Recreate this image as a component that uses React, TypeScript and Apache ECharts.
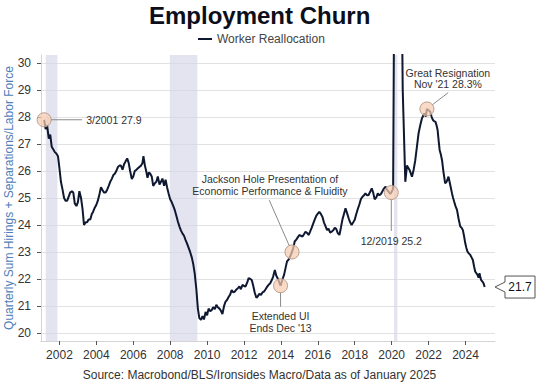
import React, { useEffect, useRef } from "react";
import * as echarts from "echarts";

// [decimal year, quarterly sum of hirings + separations / labor force]
const workerReallocation: [number, number][] = [
  [2001.17, 27.9], [2001.25, 27.55], [2001.33, 27.7], [2001.42, 27.2], [2001.5, 27.35], [2001.58, 26.9],
  [2001.67, 26.8], [2001.75, 26.7], [2001.83, 26.65], [2001.92, 26.55], [2002.0, 26.1], [2002.08, 25.6],
  [2002.17, 25.3], [2002.25, 25.0], [2002.33, 24.9], [2002.42, 24.9], [2002.5, 25.05], [2002.58, 25.2],
  [2002.67, 25.25], [2002.75, 25.2], [2002.83, 24.8], [2002.92, 24.7], [2003.0, 24.85], [2003.08, 25.25],
  [2003.17, 25.0], [2003.25, 24.6], [2003.33, 24.0], [2003.42, 24.1], [2003.5, 24.1], [2003.58, 24.2],
  [2003.67, 24.2], [2003.75, 24.4], [2003.83, 24.5], [2003.92, 24.65], [2004.0, 24.75], [2004.08, 24.9],
  [2004.17, 25.15], [2004.25, 25.4], [2004.33, 25.3], [2004.42, 25.2], [2004.5, 25.2], [2004.58, 25.3],
  [2004.67, 25.45], [2004.75, 25.6], [2004.83, 25.7], [2004.92, 25.85], [2005.0, 25.9], [2005.08, 26.0],
  [2005.17, 26.15], [2005.25, 26.2], [2005.33, 26.2], [2005.42, 26.05], [2005.5, 26.25], [2005.58, 26.35],
  [2005.67, 26.47], [2005.75, 26.3], [2005.83, 26.0], [2005.92, 25.7], [2006.0, 25.8], [2006.08, 26.0],
  [2006.17, 26.05], [2006.25, 26.1], [2006.33, 26.15], [2006.42, 26.2], [2006.5, 26.3], [2006.55, 26.55],
  [2006.63, 26.2], [2006.7, 26.0], [2006.77, 25.75], [2006.85, 25.95], [2006.92, 25.9], [2007.0, 25.8],
  [2007.08, 25.45], [2007.17, 25.55], [2007.25, 25.6], [2007.33, 25.8], [2007.42, 25.5], [2007.5, 25.6],
  [2007.58, 25.72], [2007.67, 25.45], [2007.75, 25.68], [2007.83, 25.4], [2007.92, 25.15], [2008.0, 24.95],
  [2008.08, 24.85], [2008.17, 24.7], [2008.25, 24.55], [2008.33, 24.35], [2008.42, 24.12], [2008.5, 23.95],
  [2008.58, 23.8], [2008.67, 23.68], [2008.75, 23.6], [2008.83, 23.45], [2008.92, 23.3], [2009.0, 23.15],
  [2009.08, 23.0], [2009.17, 22.8], [2009.25, 22.55], [2009.33, 22.2], [2009.42, 21.6], [2009.5, 20.9],
  [2009.58, 20.55], [2009.67, 20.48], [2009.75, 20.62], [2009.83, 20.5], [2009.92, 20.78], [2010.0, 20.65],
  [2010.08, 20.9], [2010.17, 20.8], [2010.25, 20.85], [2010.33, 20.95], [2010.42, 20.88], [2010.5, 21.04],
  [2010.58, 20.95], [2010.67, 20.9], [2010.75, 20.82], [2010.83, 20.7], [2010.92, 21.0], [2011.0, 21.16],
  [2011.08, 21.22], [2011.17, 21.34], [2011.25, 21.42], [2011.33, 21.59], [2011.42, 21.5], [2011.5, 21.53],
  [2011.58, 21.6], [2011.67, 21.66], [2011.75, 21.72], [2011.83, 21.62], [2011.92, 21.78], [2012.0, 21.74],
  [2012.08, 21.72], [2012.17, 21.86], [2012.25, 22.03], [2012.33, 22.0], [2012.42, 21.96], [2012.5, 21.75],
  [2012.58, 21.5], [2012.67, 21.3], [2012.75, 21.36], [2012.83, 21.45], [2012.92, 21.41], [2013.0, 21.5],
  [2013.08, 21.53], [2013.17, 21.62], [2013.25, 21.71], [2013.33, 21.78], [2013.42, 21.84], [2013.5, 21.95],
  [2013.58, 22.09], [2013.67, 22.33], [2013.75, 22.12], [2013.83, 22.02], [2013.92, 21.85], [2013.98, 21.75],
  [2014.08, 21.98], [2014.17, 22.15], [2014.25, 22.4], [2014.33, 22.65], [2014.42, 22.72], [2014.5, 22.83],
  [2014.6, 23.0], [2014.67, 23.15], [2014.75, 23.4], [2014.83, 23.45], [2014.92, 23.55], [2015.0, 23.63],
  [2015.08, 23.6], [2015.17, 23.57], [2015.25, 23.66], [2015.33, 23.75], [2015.42, 23.7], [2015.5, 23.63],
  [2015.58, 23.75], [2015.67, 23.9], [2015.75, 24.05], [2015.83, 24.2], [2015.92, 24.35], [2016.0, 24.42],
  [2016.08, 24.49], [2016.17, 24.4], [2016.25, 24.3], [2016.33, 24.1], [2016.42, 23.95], [2016.5, 23.81],
  [2016.58, 23.86], [2016.67, 23.72], [2016.75, 23.75], [2016.83, 23.8], [2016.92, 23.9], [2017.0, 23.85],
  [2017.08, 23.7], [2017.17, 23.63], [2017.25, 23.9], [2017.33, 24.19], [2017.42, 24.42], [2017.5, 24.62],
  [2017.58, 24.45], [2017.67, 24.25], [2017.75, 24.1], [2017.83, 24.0], [2017.92, 24.1], [2018.0, 24.19],
  [2018.08, 24.4], [2018.17, 24.6], [2018.25, 24.76], [2018.33, 24.95], [2018.42, 25.05], [2018.5, 25.1],
  [2018.58, 25.17], [2018.67, 25.1], [2018.75, 25.11], [2018.83, 25.22], [2018.92, 25.36], [2019.0, 25.2],
  [2019.08, 24.95], [2019.17, 25.02], [2019.25, 25.17], [2019.33, 25.1], [2019.42, 25.15], [2019.5, 25.25],
  [2019.58, 25.35], [2019.67, 25.42], [2019.75, 25.3], [2019.83, 25.24], [2019.92, 25.15], [2019.98, 25.2],
  [2020.08, 25.35], [2020.17, 37.0], [2020.33, 41.5], [2020.5, 36.0], [2020.6, 29.0], [2020.74, 25.6],
  [2020.83, 26.2], [2020.97, 26.04], [2021.1, 25.79], [2021.19, 26.04], [2021.28, 26.4], [2021.37, 26.9],
  [2021.46, 27.4], [2021.55, 27.7], [2021.64, 27.95], [2021.71, 28.05], [2021.78, 28.14], [2021.85, 28.02],
  [2021.91, 28.3], [2022.0, 28.25], [2022.09, 28.2], [2022.17, 28.0], [2022.24, 27.89], [2022.31, 27.84],
  [2022.37, 27.83], [2022.43, 27.7], [2022.49, 27.52], [2022.55, 27.1], [2022.6, 26.78], [2022.67, 26.6],
  [2022.73, 26.4], [2022.81, 25.95], [2022.9, 25.54], [2022.99, 25.62], [2023.08, 25.79], [2023.17, 25.5],
  [2023.27, 25.17], [2023.33, 25.0], [2023.39, 24.86], [2023.46, 24.7], [2023.54, 24.56], [2023.63, 24.22],
  [2023.72, 23.94], [2023.79, 23.9], [2023.86, 23.81], [2023.92, 23.6], [2023.99, 23.32], [2024.05, 23.15],
  [2024.11, 23.01], [2024.18, 22.95], [2024.26, 22.89], [2024.33, 22.8], [2024.4, 22.7], [2024.47, 22.45],
  [2024.53, 22.27], [2024.6, 22.2], [2024.65, 22.15], [2024.71, 22.05], [2024.76, 22.21], [2024.81, 22.05],
  [2024.85, 21.96], [2024.92, 21.9], [2024.98, 21.84], [2025.04, 21.7],
];

const xTicks = [2002, 2004, 2006, 2008, 2010, 2012, 2014, 2016, 2018, 2020, 2022, 2024];
const yTicks = [20, 21, 22, 23, 24, 25, 26, 27, 28, 29, 30];

const recessions: [number, number][] = [
  [2001.26, 2001.89],
  [2007.98, 2009.47],
  [2020.13, 2020.31],
];

const annotationPoints: [number, number][] = [
  [2001.17, 27.9],
  [2014.6, 23.0],
  [2013.98, 21.75],
  [2019.98, 25.2],
  [2021.91, 28.3],
];
const annotationTexts = [
  "3/2001 27.9",
  "Jackson Hole Presentation of\nEconomic Performance & Fluidity",
  "Extended UI\nEnds Dec '13",
  "12/2019 25.2",
  "Great Resignation\nNov '21 28.3%",
];

const titleText = "Employment Churn";
const seriesName = "Worker Reallocation";
const yAxisName = "Quarterly Sum Hirings + Separations/Labor Force";
const sourceText = "Source: Macrobond/BLS/Ironsides Macro/Data as of January 2025";

const FONT = '"Liberation Sans", Arial, Helvetica, sans-serif';

export default function App() {
  const ref = useRef<HTMLDivElement>(null);

  useEffect(() => {
    if (!ref.current) return;
    const chart = echarts.init(ref.current, null, { renderer: "svg" });
    const lastValue = workerReallocation[workerReallocation.length - 1][1];

    chart.setOption({
      animation: false,
      backgroundColor: "#ffffff",
      textStyle: { fontFamily: FONT },
      title: {
        text: titleText,
        left: 149,
        top: 3,
        padding: 0,
        textStyle: { fontSize: 24, fontWeight: "bold", color: "#0c0f1a", fontFamily: FONT },
      },
      legend: {
        left: 198,
        top: 33,
        padding: 0,
        icon: "rect",
        itemWidth: 14,
        itemHeight: 2,
        itemGap: 4,
        textStyle: { fontSize: 12, color: "#444", fontFamily: FONT },
        data: [seriesName],
      },
      grid: { left: 41, right: 45, top: 55, bottom: 45, containLabel: false, outerBoundsMode: "none" },
      xAxis: {
        type: "value",
        min: 2001.0,
        max: 2025.6,
        axisLine: { show: true, lineStyle: { color: "#d4d4d4", width: 1 } },
        axisTick: { show: true, customValues: xTicks, length: 4, lineStyle: { color: "#555" } },
        axisLabel: {
          customValues: xTicks,
          fontSize: 12,
          color: "#333",
          margin: 8,
          fontFamily: FONT,
          formatter: (v: number) => String(Math.round(v)),
        },
        splitLine: { show: false },
      },
      yAxis: {
        type: "value",
        min: 19.7,
        max: 30.3,
        name: yAxisName,
        nameLocation: "middle",
        nameRotate: 90,
        nameGap: 26,
        nameMoveOverlap: false,
        nameTextStyle: { color: "#4f80b8", fontSize: 12, fontFamily: FONT },
        axisLine: { show: true, lineStyle: { color: "#d4d4d4", width: 1 } },
        axisTick: { show: true, customValues: yTicks, length: 4, lineStyle: { color: "#555" } },
        axisLabel: {
          customValues: yTicks,
          fontSize: 12,
          color: "#333",
          margin: 10,
          fontFamily: FONT,
          formatter: (v: number) => String(Math.round(v)),
        },
        splitLine: { show: true, lineStyle: { color: "#e2e2e2", width: 1 } },
      },
      series: [
        {
          name: seriesName,
          type: "line",
          data: workerReallocation,
          showSymbol: false,
          clip: true,
          lineStyle: { color: "#0e1830", width: 2 },
          itemStyle: { color: "#0e1830" },
          markArea: {
            silent: true,
            itemStyle: { color: "rgba(214,214,234,0.65)" },
            data: recessions.map(([a, b]) => [{ xAxis: a }, { xAxis: b }]),
          },
          markPoint: {
            silent: true,
            symbol: "circle",
            symbolSize: 14,
            label: { show: false },
            itemStyle: { color: "rgba(247,204,178,0.72)", borderColor: "#b8a090", borderWidth: 1 },
            data: annotationPoints.map((p) => ({ coord: p })),
          },
        },
      ],
    });

    const toPx = (p: [number, number]) =>
      chart.convertToPixel({ xAxisIndex: 0, yAxisIndex: 0 }, p) as unknown as number[];
    const R = 7;
    const edge = (c: number[], a: number[]) => {
      const dx = a[0] - c[0];
      const dy = a[1] - c[1];
      const d = Math.sqrt(dx * dx + dy * dy) || 1;
      return [c[0] + (R * dx) / d, c[1] + (R * dy) / d];
    };
    const lineEl = (p1: number[], p2: number[]) => ({
      type: "line",
      z: 50,
      silent: true,
      shape: { x1: p1[0], y1: p1[1], x2: p2[0], y2: p2[1] },
      style: { stroke: "#8a8a8a", lineWidth: 1 },
    });
    const textEl = (
      text: string,
      x: number,
      y: number,
      align: string,
      vAlign: string,
      lineHeight = 11.5
    ) => ({
      type: "text",
      z: 50,
      silent: true,
      style: {
        text,
        x,
        y,
        fill: "#333",
        fontSize: 10.5,
        fontFamily: FONT,
        lineHeight,
        align,
        verticalAlign: vAlign,
        textAlign: align,
        textVerticalAlign: vAlign,
      },
    });

    const graphics: any[] = [];
    const c = annotationPoints.map((p) => toPx(p));

    // 3/2001
    {
      const p = c[0];
      const a = [p[0] + 38, p[1]];
      graphics.push(lineEl(edge(p, a), a));
      graphics.push(textEl(annotationTexts[0], p[0] + 42, p[1], "left", "middle"));
    }
    // Jackson Hole
    {
      const p = c[1];
      const a = [p[0] - 22.7, p[1] - 51.7];
      graphics.push(lineEl(edge(p, a), a));
      graphics.push(textEl(annotationTexts[1], p[0] - 22, p[1] - 55, "center", "bottom", 11.7));
    }
    // Extended UI
    {
      const p = c[2];
      const a = [p[0], p[1] + 21];
      graphics.push(lineEl(edge(p, a), a));
      graphics.push(textEl(annotationTexts[2], p[0], p[1] + 24.5, "center", "top", 11.7));
    }
    // 12/2019
    {
      const p = c[3];
      const a = [p[0], p[1] + 38.4];
      graphics.push(lineEl(edge(p, a), a));
      graphics.push(textEl(annotationTexts[3], p[0], p[1] + 48.4, "center", "middle"));
    }
    // Great Resignation
    {
      const p = c[4];
      const a = [p[0] + 21.3, p[1] - 16.3];
      graphics.push(lineEl(edge(p, a), a));
      graphics.push(textEl(annotationTexts[4], p[0] + 21, p[1] - 19.5, "center", "bottom", 10.8));
    }

    // last value callout
    const rightX = 540 - 45;
    const yLast = toPx([2025.0, lastValue])[1];
    graphics.push({
      type: "polygon",
      z: 50,
      silent: true,
      shape: {
        points: [
          [rightX, yLast],
          [rightX + 10, yLast - 5],
          [rightX + 10, yLast - 11],
          [rightX + 40, yLast - 11],
          [rightX + 40, yLast + 11],
          [rightX + 10, yLast + 11],
          [rightX + 10, yLast + 5],
        ],
      },
      style: { fill: "#fff", stroke: "#555", lineWidth: 1 },
    });
    graphics.push({
      type: "text",
      z: 51,
      silent: true,
      style: {
        text: lastValue.toFixed(1),
        x: rightX + 25,
        y: yLast,
        fill: "#111",
        fontSize: 12,
        fontFamily: FONT,
        align: "center",
        verticalAlign: "middle",
        textAlign: "center",
        textVerticalAlign: "middle",
      },
    });

    // source line
    graphics.push({
      type: "text",
      z: 50,
      silent: true,
      style: {
        text: sourceText,
        x: 259.5,
        y: 375,
        fill: "#333",
        fontSize: 12,
        fontFamily: FONT,
        align: "center",
        verticalAlign: "middle",
        textAlign: "center",
        textVerticalAlign: "middle",
      },
    });

    chart.setOption({ graphic: graphics });

    return () => chart.dispose();
  }, []);

  return (
    <div
      ref={ref}
      style={{ position: "fixed", left: 0, top: 0, width: 540, height: 386 }}
    />
  );
}
